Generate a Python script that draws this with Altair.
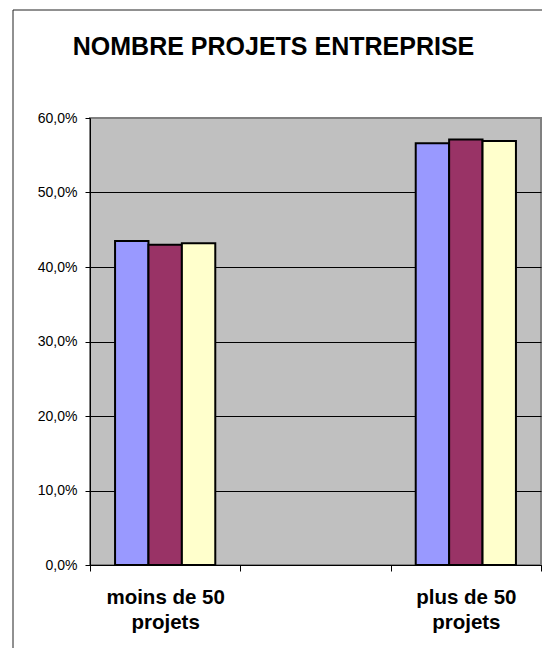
import altair as alt
import pandas as pd

# ---- data ----
categories = ["moins de 50 projets", "", "plus de 50 projets"]
series = ["Série 1", "Série 2", "Série 3"]
colors = ["#9999FF", "#993366", "#FFFFCC"]
values_moins = [43.5, 43.0, 43.2]
values_plus = [56.6, 57.1, 56.9]
y_ticks = [0, 10, 20, 30, 40, 50, 60]
title_text = "NOMBRE PROJETS ENTREPRISE"

rows = []
for s, a, b in zip(series, values_moins, values_plus):
    rows.append({"cat": categories[0], "serie": s, "val": a})
    rows.append({"cat": categories[2], "serie": s, "val": b})
df = pd.DataFrame(rows)

FONT = "Liberation Sans"

bars = alt.Chart(df).mark_bar(stroke="black", strokeWidth=2).encode(
    x=alt.X(
        "cat:N",
        sort=categories,
        scale=alt.Scale(domain=categories, paddingInner=0, paddingOuter=0),
        axis=alt.Axis(
            title=None,
            labelAngle=0,
            tickBand="extent",
            tickSize=6,
            tickColor="black",
            domainColor="black",
            labelFont=FONT,
            labelFontSize=20.5,
            labelFontWeight="bold",
            labelColor="black",
            labelPadding=16,
            labelLineHeight=25,
            labelExpr="datum.label == '' ? '' : [replace(datum.label, ' projets', ''), 'projets']",
            grid=False,
        ),
    ),
    xOffset=alt.XOffset(
        "serie:N",
        scale=alt.Scale(domain=series, paddingInner=0, paddingOuter=0.75),
    ),
    y=alt.Y(
        "val:Q",
        scale=alt.Scale(domain=[0, 60], nice=False),
        axis=alt.Axis(
            title=None,
            values=y_ticks,
            tickSize=5,
            tickColor="black",
            domainColor="black",
            labelFont=FONT,
            labelFontSize=14,
            labelColor="black",
            labelPadding=8,
            labelExpr="replace(format(datum.value, '.1f'), '.', ',') + '%'",
            grid=True,
            gridColor={"condition": {"test": "datum.value == 60", "value": "#808080"}, "value": "black"},
            gridWidth=1,
        ),
    ),
    color=alt.Color("serie:N", scale=alt.Scale(domain=series, range=colors), legend=None),
)

title_mark = alt.Chart(alt.Data(values=[{"t": title_text}])).mark_text(
    font=FONT, fontSize=25, fontWeight="bold", color="black",
    align="center", baseline="alphabetic",
).encode(text="t:N", x=alt.value(183.5), y=alt.value(-63))

border_data = alt.Data(values=[{}])
left_border = alt.Chart(border_data).mark_rule(color="#222222", strokeWidth=1).encode(
    x=alt.value(-77), y=alt.value(-108), y2=alt.value(545)
)
top_border = alt.Chart(border_data).mark_rule(color="#222222", strokeWidth=1).encode(
    x=alt.value(-77), x2=alt.value(470), y=alt.value(-108)
)

chart = alt.layer(bars, title_mark, left_border, top_border).properties(
    width=451,
    height=447,
    padding={"left": 82, "top": 110, "right": 1, "bottom": 83},
    autosize=alt.AutoSizeParams(type="none"),
    background="white",
).configure_view(
    fill="#C0C0C0", stroke="#808080", strokeWidth=2
)

chart.save("out.html", embed_options={"renderer": "svg", "actions": False})
